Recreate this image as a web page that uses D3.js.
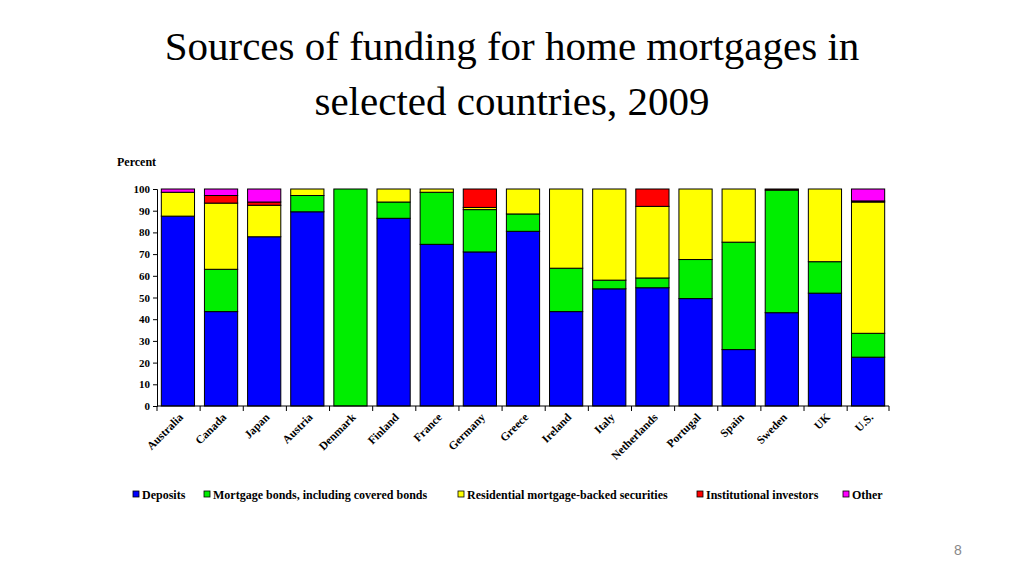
<!DOCTYPE html>
<html><head><meta charset="utf-8">
<script src="https://cdn.jsdelivr.net/npm/d3@7"></script>
<style>body{margin:0;background:#fff}svg{display:block}
.s{font-family:"Liberation Serif","Tinos","Times New Roman","DejaVu Serif",serif}</style>
</head><body>
<svg id="c" width="1024" height="576"></svg>
<script>
const countries=["Australia","Canada","Japan","Austria","Denmark","Finland","France","Germany","Greece","Ireland","Italy","Netherlands","Portugal","Spain","Sweden","UK","U.S."];
const deposits=[87.5,43.5,78,89.5,0,86.5,74.5,71,80.5,43.5,54,54.5,49.5,26,43,52,22.5];
const mortgageBonds=[0,19.5,0,7.5,100,7.5,24,19.5,8,20,4,4.5,18,49.5,56.5,14.5,11];
const rmbs=[11,30.5,14.5,3,0,6,1.5,1,11.5,36.5,42,33,32.5,24.5,0,33.5,60.5];
const institutional=[0,3.5,1.5,0,0,0,0,8.5,0,0,0,8,0,0,0.5,0,0.5];
const other=[1.5,3,6,0,0,0,0,0,0,0,0,0,0,0,0,0,5.5];
const seriesNames=["Deposits","Mortgage bonds, including covered bonds","Residential mortgage-backed securities","Institutional investors","Other"];
const colors=["#0000ff","#00ee00","#ffff00","#ff0000","#ff00ff"];
const yTicks=[0,10,20,30,40,50,60,70,80,90,100];

const svg=d3.select("#c");
svg.append("text").attr("class","s").attr("x",512).attr("y",60).attr("text-anchor","middle").attr("font-size",41).text("Sources of funding for home mortgages in");
svg.append("text").attr("class","s").attr("x",512).attr("y",115).attr("text-anchor","middle").attr("font-size",41).text("selected countries, 2009");
svg.append("text").attr("class","s").attr("x",117).attr("y",166).attr("font-size",12).attr("font-weight","bold").text("Percent");
svg.append("text").attr("x",958).attr("y",555).attr("text-anchor","middle").attr("font-family","Arial, sans-serif").attr("font-size",14).attr("fill","#888").text("8");

const x=d3.scaleBand().domain(countries).range([157,889]).paddingInner(0.23).paddingOuter(0.1);
const y=d3.scaleLinear().domain([0,100]).range([406,189]);
const rows=countries.map((c,i)=>({c,s0:deposits[i],s1:mortgageBonds[i],s2:rmbs[i],s3:institutional[i],s4:other[i]}));
const stack=d3.stack().keys(["s0","s1","s2","s3","s4"])(rows);
const g=svg.append("g");
stack.forEach((layer,k)=>{
  g.selectAll(null).data(layer.filter(d=>d[1]-d[0]>0)).enter().append("rect")
   .attr("x",d=>x(d.data.c)).attr("width",x.bandwidth())
   .attr("y",d=>y(d[1])).attr("height",d=>y(d[0])-y(d[1]))
   .attr("fill",colors[k]).attr("stroke","#000").attr("stroke-width",1);
});
const ya=svg.append("g").attr("transform","translate(157,0)").call(d3.axisLeft(y).tickValues(yTicks).tickSize(4));
ya.selectAll("text").attr("class","s").attr("font-family",null).attr("font-size",11).attr("font-weight","bold").attr("fill","#000");
ya.select(".domain").attr("stroke","#000");
const xa=svg.append("g").attr("transform","translate(0,406)").call(d3.axisBottom(x).tickSize(0).tickFormat(""));
xa.select(".domain").attr("d","M157,0H889");
const step=x.step();
countries.forEach((c,i)=>{
  const xx=157+step*i;
  xa.append("line").attr("x1",xx).attr("x2",xx).attr("y1",0).attr("y2",5).attr("stroke","#000");
});
xa.append("line").attr("x1",889).attr("x2",889).attr("y1",0).attr("y2",5).attr("stroke","#000");
countries.forEach((c,i)=>{
  const cx=x(c)+x.bandwidth()/2+6;
  svg.append("text").attr("class","s").attr("transform",`translate(${cx},${418}) rotate(-45)`).attr("text-anchor","end")
   .attr("font-size",11.5).attr("font-weight","bold").text(c);
});
const lx=[133,204,458,697,843];
seriesNames.forEach((n,i)=>{
  svg.append("rect").attr("x",lx[i]).attr("y",491).attr("width",6).attr("height",6).attr("fill",colors[i]).attr("stroke","#000").attr("stroke-width",0.8);
  svg.append("text").attr("class","s").attr("x",lx[i]+9).attr("y",499).attr("font-size",12).attr("font-weight","bold").text(n);
});
</script>
</body></html>
